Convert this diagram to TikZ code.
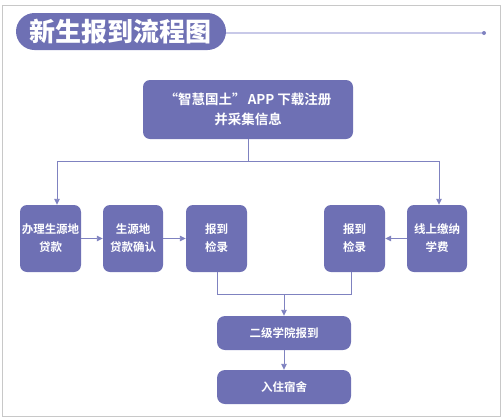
\documentclass[tikz,border=0pt]{standalone}
\usepackage{fontspec}
\newfontfamily\cjk{Noto Sans CJK SC}[BoldFont={Noto Sans CJK SC Bold}]
\newfontfamily\cjkblack{Noto Sans CJK SC Black}
\usetikzlibrary{arrows.meta}
\definecolor{boxc}{HTML}{6E70B4}
\definecolor{linec}{HTML}{7F82C0}
\definecolor{titleline}{HTML}{C8C9E8}
\definecolor{framec}{HTML}{C8C8C8}
\begin{document}
\begin{tikzpicture}[x=1pt,y=-1pt,
  box/.style={fill=boxc,rounded corners=7pt,text=white,font=\cjk\bfseries\fontsize{11.5}{18}\selectfont,align=center,inner sep=0pt},
  conn/.style={draw=linec,line width=0.9pt},
  arr/.style={conn,-{Triangle[length=6pt,width=5.5pt]}}]
\useasboundingbox (0,0) rectangle (501,418);
\draw[framec,line width=1pt] (2,5) rectangle (500,416);
% title
\node[fill=boxc,rounded corners=18.5pt,minimum width=210pt,minimum height=37pt,inner sep=0pt,text=white,font=\cjkblack\fontsize{26}{30}\selectfont] (title) at (121,31.5) {新生报到流程图};
\coordinate (dot) at (484,33);
\draw[titleline,line width=1.5pt] (title.east |- dot) -- (dot);
\fill[linec] (dot) circle (2pt);
% boxes
\node[box,minimum width=210pt,minimum height=59pt,font=\cjk\bfseries\fontsize{13.5}{20}\selectfont] (main) at (248,109.5) {“智慧国土”\,APP 下载注册\\并采集信息};
\node[box,minimum width=61pt,minimum height=67pt] (b1) at (50.5,238.5) {办理生源地\\贷款};
\node[box,minimum width=60pt,minimum height=67pt] (b2) at (133,238.5) {生源地\\贷款确认};
\node[box,minimum width=61pt,minimum height=67pt] (b3) at (216.5,238.5) {报到\\检录};
\node[box,minimum width=61pt,minimum height=67pt] (b4) at (354.5,238.5) {报到\\检录};
\node[box,minimum width=60pt,minimum height=67pt] (b5) at (437,238.5) {线上缴纳\\学费};
\node[box,minimum width=134pt,minimum height=34pt,rounded corners=8pt] (b6) at (284,333) {二级学院报到};
\node[box,minimum width=134pt,minimum height=34pt,rounded corners=8pt] (b7) at (284,387) {入住宿舍};
% connectors
\coordinate (hl) at (57,161);
\coordinate (hr) at (439,161);
\draw[conn] (main.south) -- (main.south |- hl);
\draw[conn] (hl) -- (hr);
\draw[arr] (hl) -- (hl |- b1.north);
\draw[arr] (hr) -- (hr |- b5.north);
\draw[arr] (b1.east) -- (b2.west);
\draw[arr] (b2.east) -- (b3.west);
\draw[arr] (b5.west) -- (b4.east);
\coordinate (jl) at (217,294);
\coordinate (jr) at (351,294);
\draw[conn] (jl |- b3.south) -- (jl) -- (jr) -- (jr |- b4.south);
\draw[arr] (b6.north |- jl) -- (b6.north);
\draw[arr] (b6.south) -- (b7.north);
\end{tikzpicture}
\end{document}
